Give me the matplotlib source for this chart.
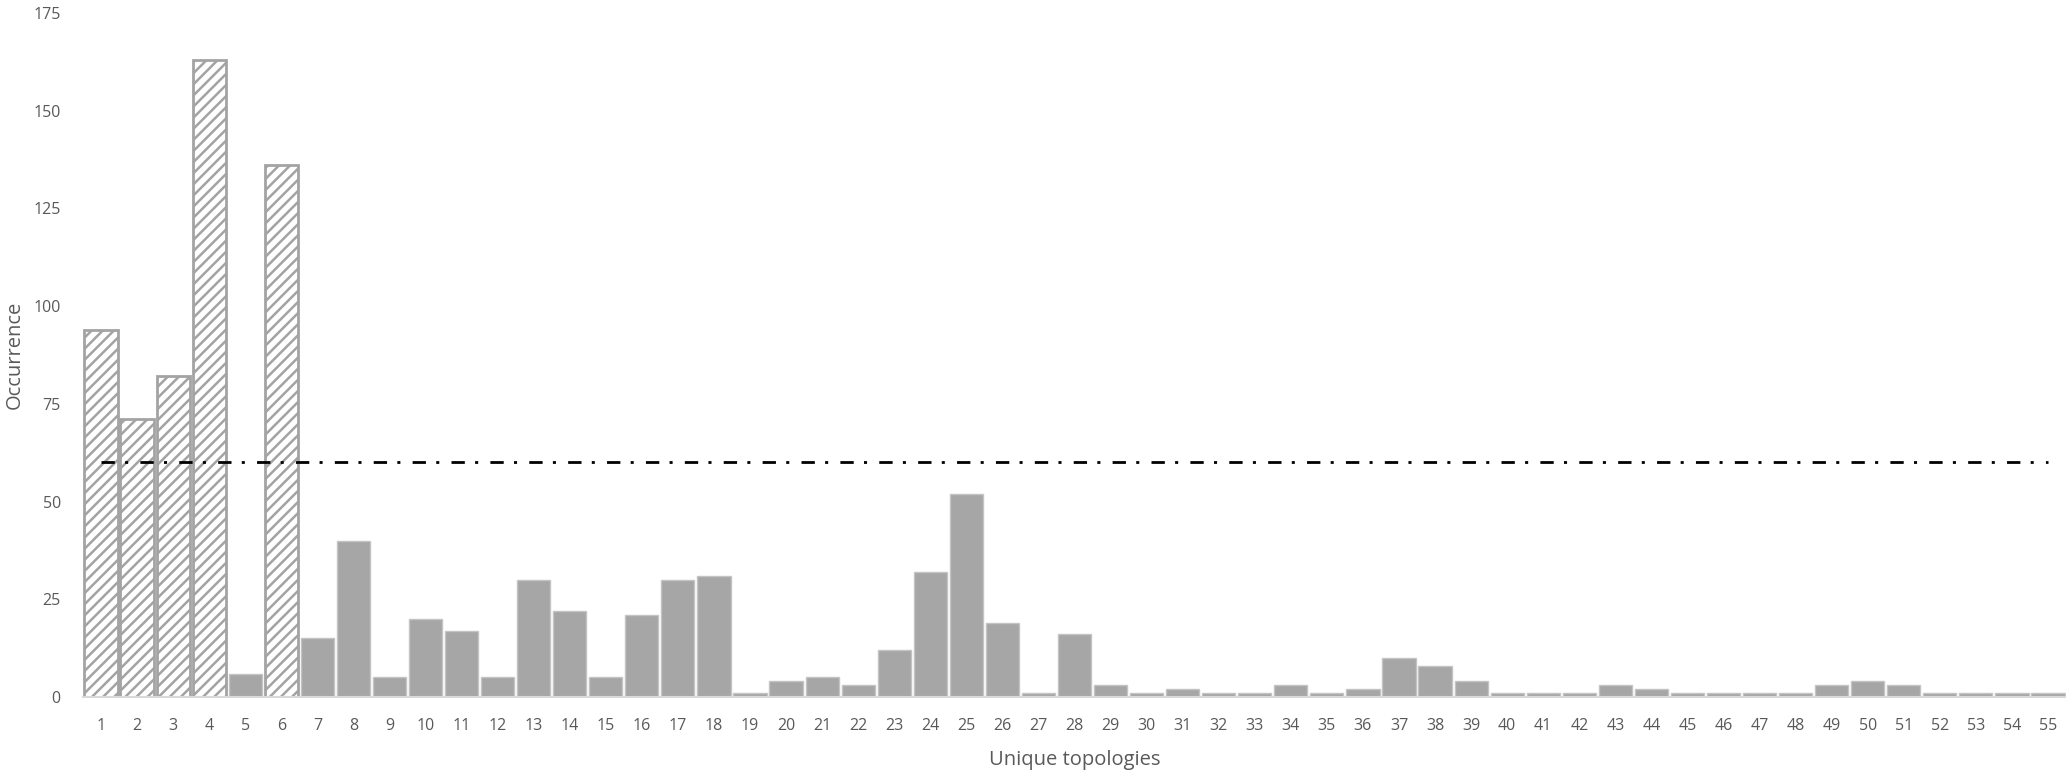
import matplotlib
matplotlib.use("Agg")
import matplotlib.pyplot as plt
import numpy as np

plt.rcParams['font.family'] = ['Open Sans', 'DejaVu Sans']
plt.rcParams['hatch.linewidth'] = 1.8

categories = [str(i) for i in range(1, 56)]
occurrence = [94, 71, 82, 163, 6, 136, 15, 40, 5, 20,
              17, 5, 30, 22, 5, 21, 30, 31, 1, 4,
              5, 3, 12, 32, 52, 19, 1, 16, 3, 1,
              2, 1, 1, 3, 1, 2, 10, 8, 4, 1,
              1, 1, 3, 2, 1, 1, 1, 1, 3, 4,
              3, 1, 1, 1, 1]
threshold = 60
highlighted = ["1", "2", "3", "4", "6"]
y_ticks = [0, 25, 50, 75, 100, 125, 150, 175]

fig = plt.figure(figsize=(20.66, 7.74), dpi=100)
ax = fig.add_axes([83 / 2066, 77 / 774, (2066 - 83) / 2066, (697 - 13) / 774])

x = np.arange(1, len(categories) + 1)
for xi, cat, v in zip(x, categories, occurrence):
    if cat in highlighted:
        ax.bar(xi, v, width=0.92, color='white', edgecolor='#a3a3a3',
               linewidth=2.0, hatch='///', zorder=2)
    else:
        ax.bar(xi, v, width=0.92, color='#a6a6a6', edgecolor='#c4c4c4',
               linewidth=1.0, zorder=2)

ax.plot(x, [threshold] * len(x), color='black', linewidth=2.0,
        linestyle=(0, (4.8, 3.7, 1.1, 4.4)), zorder=3)

ax.set_xlim(0.5, len(categories) + 0.5)
ax.set_ylim(0, 175)
ax.set_xticks(x)
ax.set_xticklabels(categories)
ax.set_yticks(y_ticks)
ax.set_yticklabels([str(t) for t in y_ticks])

for s in ['top', 'right', 'left']:
    ax.spines[s].set_visible(False)
ax.spines['bottom'].set_color('#d9d9d9')
ax.spines['bottom'].set_linewidth(1.5)
ax.spines['bottom'].set_zorder(4)

ax.tick_params(axis='both', length=0, labelsize=11.5, labelcolor='#595959')
ax.tick_params(axis='x', pad=15)
ax.tick_params(axis='y', pad=16)

ax.set_xlabel('Unique topologies', fontsize=14.5, color='#595959', labelpad=12)
ax.set_ylabel('Occurrence', fontsize=14.5, color='#595959', labelpad=6)

fig.savefig('out.png', dpi=100)
